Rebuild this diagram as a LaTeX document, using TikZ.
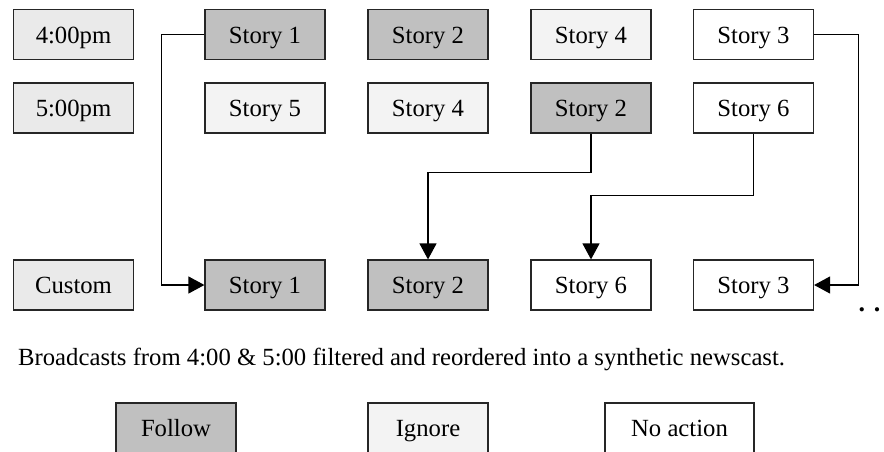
\documentclass[tikz,border=0pt]{standalone}
\usepackage{fontspec}
\setmainfont{Liberation Serif}
\usetikzlibrary{arrows.meta}
\definecolor{follow}{HTML}{C0C0C0}
\definecolor{timebox}{HTML}{EAEAEA}
\definecolor{ignorebox}{HTML}{F3F3F3}
\begin{document}
\begin{tikzpicture}[x=1pt,y=-1pt,
  font=\fontsize{24.7}{29}\selectfont,
  box/.style={draw=black!85, line width=1.2pt, minimum width=120pt, minimum height=50pt,
    inner sep=0pt, text height=17pt, text depth=0pt, anchor=center},
  fol/.style={box, fill=follow},
  ign/.style={box, fill=ignorebox},
  tim/.style={box, fill=timebox},
  non/.style={box, fill=white},
  conn/.style={line width=1.2pt, draw=black},
  arr/.style={conn, -{Triangle[length=16pt,width=17pt]}}]
\useasboundingbox (0,0) rectangle (884,451);
% row 1
\node[tim] (a1) at (73.5,34.5) {4:00pm};
\node[fol] (a2) at (265,34.5) {Story 1};
\node[fol] (a3) at (428,34.5) {Story 2};
\node[ign] (a4) at (591,34.5) {Story 4};
\node[non] (a5) at (753.5,34.5) {Story 3};
% row 2
\node[tim] (b1) at (73.5,108) {5:00pm};
\node[ign] (b2) at (265,108) {Story 5};
\node[ign] (b3) at (428,108) {Story 4};
\node[fol] (b4) at (591,108) {Story 2};
\node[non] (b5) at (753.5,108) {Story 6};
% row 3
\node[tim] (c1) at (73.5,285) {Custom};
\node[fol] (c2) at (265,285) {Story 1};
\node[fol] (c3) at (428,285) {Story 2};
\node[non] (c4) at (591,285) {Story 6};
\node[non] (c5) at (753.5,285) {Story 3};
\node[anchor=base, inner sep=0pt, font=\fontsize{26}{30}\bfseries] (dots) at (869.5,311.5) {. .};
% connectors
\draw[arr] (a2.west) -- ++(-43,0) |- (c2.west);
\draw[arr] (b4.south) -- ++(0,39) -| (c3.north);
\draw[arr] (b5.south) -- ++(0,62) -| (c4.north);
\draw[arr] (a5.east) -- ++(44,0) |- (c5.east);
% caption
\node[anchor=base west, inner sep=0pt] (cap) at (18,365) {Broadcasts from 4:00 \& 5:00 filtered and reordered into a synthetic newscast.};
% legend
\node[fol] (l1) at (176,428) {Follow};
\node[ign] (l2) at (428,428) {Ignore};
\node[non, minimum width=149pt] (l3) at (679.5,428) {No action};
\end{tikzpicture}
\end{document}
